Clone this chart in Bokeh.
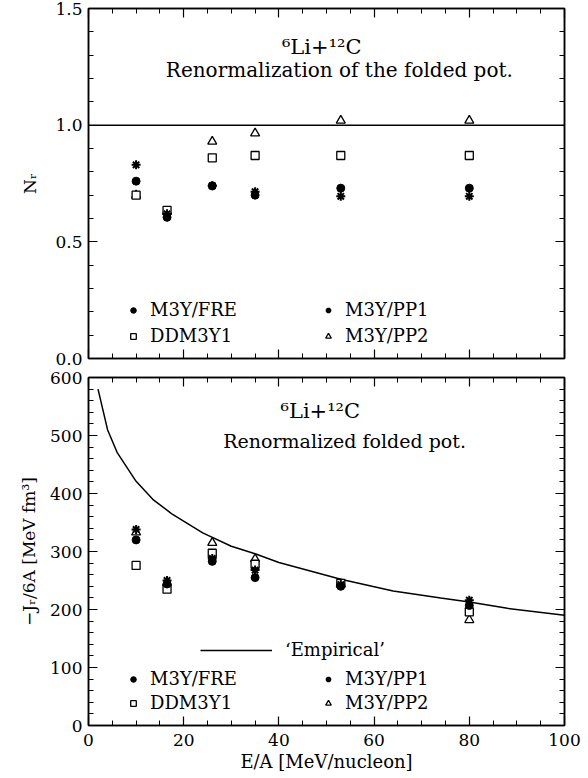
import numpy as np
from bokeh.plotting import figure
from bokeh.models import (LinearAxis, FixedTicker, Span, Label, Legend, LegendItem,
                          Range1d, PrintfTickFormatter, CustomLabelingPolicy)
from bokeh.layouts import column
from bokeh.embed import file_html
from bokeh.resources import INLINE

# ---------------- data ----------------
E_A = [10, 16.5, 26, 35, 53, 80]

NR_FRE = [0.76, 0.605, 0.74, 0.70, 0.73, 0.73]
NR_PP1 = [0.83, 0.62, 0.74, 0.715, 0.695, 0.695]
NR_DDM = [0.70, 0.635, 0.86, 0.87, 0.87, 0.87]
NR_PP2 = [0.70, 0.63, 0.93, 0.965, 1.02, 1.02]
NR_REF = 1.0

J_FRE = [320, 244, 283, 255, 240, 207]
J_PP1 = [338, 250, 288, 268, 243, 216]
J_DDM = [276, 235, 297, 278, 245, 196]
J_PP2 = [333, 246, 315, 287, 244, 182]

EMP_E = [2, 4, 6, 10, 13.5, 17.5, 24, 30, 35, 40, 53, 64, 74, 80, 88, 100]
EMP_J = [580, 510, 471, 421, 390, 365, 332, 309, 296, 281, 252, 232, 220, 213, 202, 190]

X_TICKS = [0, 20, 40, 60, 80, 100]
X_MINOR = list(np.arange(0, 101, 5))
NR_TICKS = [0.0, 0.5, 1.0, 1.5]
NR_MINOR = [round(v, 1) for v in np.arange(0, 1.51, 0.1)]
J_TICKS = [0, 100, 200, 300, 400, 500, 600]
J_MINOR = list(range(0, 601, 20))

SERIF = "DejaVu Serif"
FS = "18px"
TICK_FS = "17px"


def style_axis(ax, ticker, labels, fmt=None):
    ax.ticker = ticker
    ax.major_tick_in = 9
    ax.major_tick_out = 0
    ax.minor_tick_in = 5
    ax.minor_tick_out = 0
    ax.major_tick_line_color = "black"
    ax.minor_tick_line_color = "black"
    ax.major_tick_line_width = 1.2
    ax.minor_tick_line_width = 1.0
    ax.axis_line_color = "black"
    ax.axis_line_width = 1.5
    if fmt is not None:
        ax.formatter = fmt
    if labels:
        ax.major_label_text_font = SERIF
        ax.major_label_text_font_size = TICK_FS
        ax.major_label_text_color = "black"
    else:
        ax.major_label_text_font_size = "0px"
        ax.major_label_standoff = 0
        ax.major_label_policy = CustomLabelingPolicy(code="return []")
        ax.axis_label = None


def make_panel(height, yr, yticks, yminor, yfmt, top_b, bot_b, show_x):
    p = figure(width=588, height=height, x_range=Range1d(0, 100), y_range=yr,
               output_backend="svg", toolbar_location=None,
               min_border_left=88, min_border_right=24,
               min_border_top=top_b, min_border_bottom=bot_b)
    p.grid.visible = False
    p.outline_line_color = "black"
    p.outline_line_width = 1.5
    p.background_fill_color = "white"
    p.border_fill_color = "white"

    ax_b = p.xaxis[0]
    ax_l = p.yaxis[0]
    style_axis(ax_b, FixedTicker(ticks=X_TICKS, minor_ticks=X_MINOR), show_x)
    style_axis(ax_l, FixedTicker(ticks=yticks, minor_ticks=yminor), True, yfmt)
    ax_l.major_label_standoff = 6
    if show_x:
        ax_b.major_label_standoff = 8

    ax_r = LinearAxis()
    style_axis(ax_r, FixedTicker(ticks=yticks, minor_ticks=yminor), False)
    p.add_layout(ax_r, "right")
    ax_t = LinearAxis()
    style_axis(ax_t, FixedTicker(ticks=X_TICKS, minor_ticks=X_MINOR), False)
    p.add_layout(ax_t, "above")
    return p, ax_b, ax_l


def add_markers(p, x, fre, pp1, ddm, pp2):
    r_pp2 = p.scatter(x, pp2, marker="triangle", size=9, line_color="black",
                      fill_color="white", line_width=1.3)
    r_ddm = p.scatter(x, ddm, marker="square", size=8, line_color="black",
                      fill_color="white", line_width=1.3)
    r_pp1 = p.scatter(x, pp1, marker="asterisk", size=9, line_color="black",
                      line_width=2)
    r_fre = p.scatter(x, fre, marker="circle", size=8, line_color="black",
                      fill_color="black")
    return r_fre, r_pp1, r_ddm, r_pp2


def add_legend(p, rends, loc, spacing, label_width):
    r_fre, r_pp1, r_ddm, r_pp2 = rends
    leg = Legend(items=[LegendItem(label="M3Y/FRE", renderers=[r_fre]),
                        LegendItem(label="DDM3Y1", renderers=[r_ddm]),
                        LegendItem(label="M3Y/PP1", renderers=[r_pp1]),
                        LegendItem(label="M3Y/PP2", renderers=[r_pp2])],
                 ncols=2, location=loc, orientation="vertical",
                 glyph_width=14, glyph_height=20, label_height=20,
                 label_width=label_width, label_standoff=10, spacing=spacing,
                 padding=0, margin=0, border_line_color=None,
                 background_fill_alpha=0, label_text_color="black",
                 label_text_font=SERIF, label_text_font_size=FS)
    p.add_layout(leg)


def axis_title(ax, text, size, standoff):
    ax.axis_label = text
    ax.axis_label_text_font = SERIF
    ax.axis_label_text_font_size = size
    ax.axis_label_text_font_style = "normal"
    ax.axis_label_text_color = "black"
    ax.axis_label_standoff = standoff


def note(p, x, y, text, size):
    p.add_layout(Label(x=x, y=y, text=text, text_align="center",
                       text_baseline="middle", text_font=SERIF,
                       text_font_size=size, text_color="black"))


# ---------------- top panel ----------------
p1, p1_xb, p1_yl = make_panel(369, Range1d(0, 1.5), NR_TICKS, NR_MINOR,
                              PrintfTickFormatter(format="%.1f"), 8, 11, False)
axis_title(p1_yl, "Nᵣ", "17px", 12)

p1.add_layout(Span(location=NR_REF, dimension="width", line_color="black",
                   line_width=1.5))
rends1 = add_markers(p1, E_A, NR_FRE, NR_PP1, NR_DDM, NR_PP2)
add_legend(p1, rends1, (38, 12), 5, 166)

note(p1, 49, 1.334, "⁶Li+¹²C", "21px")
note(p1, 52.7, 1.236, "Renormalization of the folded pot.", "20px")

# ---------------- bottom panel ----------------
p2, p2_xb, p2_yl = make_panel(409, Range1d(0, 600), J_TICKS, J_MINOR, None,
                              8, 53, True)
axis_title(p2_yl, "−Jᵣ/6A [MeV fm³]", "17px", 8)
axis_title(p2_xb, "E/A [MeV/nucleon]", FS, 2)

r_emp = p2.line(EMP_E, EMP_J, line_color="black", line_width=1.5)
rends2 = add_markers(p2, E_A, J_FRE, J_PP1, J_DDM, J_PP2)
add_legend(p2, rends2, (38, 12), 3, 168)
leg_emp = Legend(items=[LegendItem(label="‘Empirical’", renderers=[r_emp])],
                 location=(112, 65), glyph_width=72, glyph_height=20,
                 label_height=20, label_standoff=13, padding=0, margin=0,
                 border_line_color=None, background_fill_alpha=0,
                 label_text_color="black",
                 label_text_font=SERIF, label_text_font_size=FS)
p2.add_layout(leg_emp)

note(p2, 48.7, 542, "⁶Li+¹²C", "21px")
note(p2, 53.8, 491, "Renormalized folded pot.", "19px")

layout = column(p1, p2, spacing=0)
open("out.html", "w").write(file_html(layout, INLINE))
